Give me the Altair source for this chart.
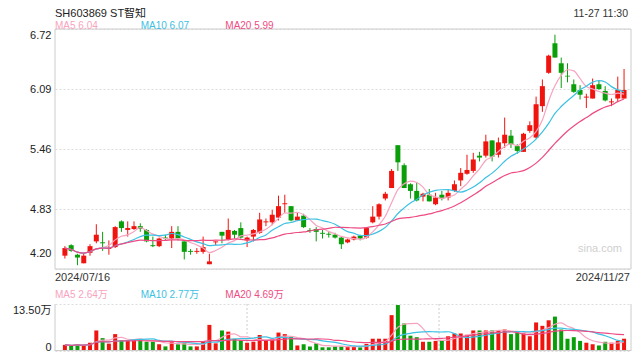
import altair as alt
import pandas as pd

# ---------------- data ----------------
title_text = "SH603869 ST智知"
time_text = "11-27 11:30"
date_labels = ["2024/07/16", "2024/11/27"]
price_ma_labels = ["MA5 6.04", "MA10 6.07", "MA20 5.99"]
vol_ma_labels = ["MA5 2.64万", "MA10 2.77万", "MA20 4.69万"]
price_ticks = [4.20, 4.83, 5.46, 6.09, 6.72]
vol_ticks = [0, 13.5]
watermark = "sina.com"

open_ = [4.34, 4.45, 4.35, 4.26, 4.37, 4.49, 4.48, 4.41, 4.43, 4.70,
         4.61, 4.62, 4.65, 4.61, 4.45, 4.44, 4.53, 4.52, 4.59, 4.49,
         4.39, 4.38, 4.38, 4.25, 4.48, 4.59, 4.51, 4.60, 4.63, 4.50,
         4.54, 4.58, 4.69, 4.69, 4.74, 4.88, 4.86, 4.71, 4.76, 4.61,
         4.62, 4.58, 4.57, 4.56, 4.53, 4.48, 4.51, 4.55, 4.53, 4.69,
         4.75, 4.94, 5.05, 5.50, 5.29, 5.09, 5.02, 4.96, 4.98, 4.88,
         4.98, 4.95, 5.02, 5.13, 5.20, 5.23, 5.39, 5.39, 5.55, 5.40,
         5.52, 5.60, 5.49, 5.43, 5.65, 5.58, 5.91, 6.26, 6.57, 6.36,
         6.23, 6.14, 6.08, 6.00, 5.99, 6.14, 6.07, 5.95, 5.99, 5.99]
high = [4.44, 4.46, 4.36, 4.37, 4.46, 4.67, 4.59, 4.50, 4.65, 4.71,
        4.70, 4.70, 4.68, 4.62, 4.54, 4.53, 4.56, 4.65, 4.65, 4.49,
        4.41, 4.42, 4.54, 4.36, 4.49, 4.59, 4.73, 4.61, 4.69, 4.54,
        4.62, 4.79, 4.73, 4.82, 4.97, 4.98, 4.86, 4.79, 4.78, 4.63,
        4.64, 4.61, 4.60, 4.58, 4.54, 4.52, 4.55, 4.56, 4.64, 4.86,
        4.89, 5.01, 5.25, 5.50, 5.31, 5.10, 5.11, 5.00, 5.04, 5.00,
        5.02, 5.03, 5.13, 5.26, 5.40, 5.42, 5.43, 5.61, 5.55, 5.58,
        5.79, 5.66, 5.51, 5.63, 5.75, 6.01, 6.19, 6.45, 6.66, 6.42,
        6.36, 6.19, 6.13, 6.04, 6.20, 6.18, 6.12, 5.99, 6.22, 6.30]
low = [4.31, 4.38, 4.24, 4.26, 4.34, 4.47, 4.39, 4.35, 4.42, 4.59,
       4.54, 4.61, 4.59, 4.48, 4.43, 4.43, 4.50, 4.42, 4.50, 4.30,
       4.35, 4.36, 4.36, 4.25, 4.45, 4.47, 4.50, 4.52, 4.52, 4.43,
       4.49, 4.57, 4.65, 4.66, 4.71, 4.79, 4.70, 4.71, 4.63, 4.58,
       4.49, 4.52, 4.53, 4.52, 4.41, 4.47, 4.50, 4.50, 4.52, 4.68,
       4.72, 4.92, 5.05, 5.23, 5.05, 4.94, 4.91, 4.91, 4.91, 4.87,
       4.92, 4.92, 5.01, 5.07, 5.19, 5.21, 5.33, 5.37, 5.33, 5.37,
       5.47, 5.47, 5.41, 5.43, 5.63, 5.57, 5.85, 6.25, 6.42, 6.10,
       6.16, 6.05, 5.98, 5.89, 5.99, 6.08, 5.96, 5.91, 5.96, 5.99]
close = [4.42, 4.39, 4.32, 4.34, 4.44, 4.56, 4.47, 4.42, 4.64, 4.63,
         4.63, 4.65, 4.62, 4.49, 4.44, 4.52, 4.52, 4.59, 4.52, 4.38,
         4.38, 4.39, 4.43, 4.28, 4.49, 4.55, 4.61, 4.56, 4.53, 4.53,
         4.61, 4.72, 4.70, 4.77, 4.86, 4.89, 4.71, 4.75, 4.64, 4.60,
         4.59, 4.57, 4.56, 4.53, 4.46, 4.51, 4.54, 4.52, 4.63, 4.75,
         4.88, 4.99, 5.23, 5.32, 5.05, 5.02, 4.92, 4.99, 4.91, 4.95,
         4.94, 5.00, 5.09, 5.21, 5.24, 5.35, 5.37, 5.54, 5.38, 5.53,
         5.61, 5.51, 5.44, 5.62, 5.71, 5.93, 6.12, 6.44, 6.42, 6.26,
         6.22, 6.06, 6.03, 6.01, 6.13, 6.09, 5.97, 5.96, 6.08, 6.08]
volume = [1.76, 1.50, 1.94, 1.59, 2.38, 5.90, 3.70, 2.12, 4.85, 3.09,
          3.09, 3.26, 3.26, 2.65, 2.65, 1.94, 1.32, 2.65, 1.94, 2.38,
          1.32, 1.32, 2.65, 7.50, 2.20, 5.90, 5.56, 3.53, 3.09, 2.38,
          2.65, 4.59, 3.09, 3.53, 5.29, 4.85, 4.14, 1.59, 1.94, 1.32,
          2.20, 1.06, 1.06, 1.32, 1.32, 1.32, 1.32, 1.06, 2.03, 3.53,
          3.53, 3.53, 10.30, 13.20, 7.90, 4.40, 3.97, 2.65, 2.65, 2.90,
          3.09, 4.23, 5.03, 5.03, 4.67, 5.90, 5.90, 5.90, 5.90, 5.90,
          6.17, 4.85, 5.29, 5.03, 4.23, 8.20, 7.23, 8.82, 9.88, 6.17,
          3.53, 3.97, 2.90, 2.38, 1.94, 1.59, 2.65, 2.38, 2.90, 3.53]

# ---------------- style ----------------
FONT = "Liberation Sans, Arial, Noto Sans CJK SC, sans-serif"
RED = "#f0140f"
GREEN = "#0a9f0a"
C5, C10, C20 = "#f7a3c0", "#3bc1e3", "#ee4b84"
BORDER = "#cccccc"
W, H = 576, 322
PH = 240           # price panel bottom (px in view)
VT, VB = 275, 322  # volume panel top / bottom

n = len(close)
df = pd.DataFrame({"i": list(range(n)), "open": open_, "high": high,
                   "low": low, "close": close, "vol": volume})

xs = alt.Scale(domain=[-0.78, n - 1 + 0.31], nice=False, zero=False)
X = alt.X("i:Q", scale=xs, axis=None)
ps = alt.Scale(domain=[price_ticks[0], price_ticks[-1]], range=[PH, 0], nice=False, zero=False)
vs = alt.Scale(domain=[vol_ticks[0], vol_ticks[-1]], range=[VB, VT], nice=False, zero=False)

updown = alt.condition("datum.close >= datum.open", alt.value(RED), alt.value(GREEN))

price_axis = alt.Axis(
    values=price_ticks, format=".2f", title=None, domain=False, ticks=False,
    labelPadding=4, labelFont=FONT, labelFontSize=11, labelColor="#222",
    grid=True, gridColor="#dddddd", gridDash=[2, 2], orient="left",
    labelBaseline={"condition": {"test": "datum.value > 6.7", "value": "top"}, "value": "middle"},
    labelOffset={"condition": {"test": "datum.value < 4.21", "value": -16}, "value": 0},
)
vol_axis = alt.Axis(
    values=vol_ticks, title=None, domain=False, ticks=False, orient="left",
    labelPadding=4, labelFont=FONT, labelFontSize=11, labelColor="#222",
    labelExpr="datum.value == 0 ? '0' : format(datum.value, '.2f') + '万'",
    grid=True, gridColor="#dddddd", gridDash=[2, 2],
    labelBaseline={"condition": {"test": "datum.value > 13", "value": "top"}, "value": "bottom"},
    labelOffset={"condition": {"test": "datum.value < 1", "value": 1}, "value": 0},
)

base = alt.Chart(df)

wicks = base.mark_rule(strokeWidth=1).encode(
    x=X, y=alt.Y("low:Q", scale=ps, axis=price_axis), y2="high:Q", color=updown)
bodies = base.mark_bar(size=5).encode(
    x=X, y=alt.Y("open:Q", scale=ps), y2="close:Q", color=updown)

srt = [alt.SortField("i")]
pma = (base.transform_window(ma5="mean(close)", frame=[-4, 0], sort=srt)
           .transform_window(ma10="mean(close)", frame=[-9, 0], sort=srt)
           .transform_window(ma20="mean(close)", frame=[-19, 0], sort=srt))
pma_lines = [pma.mark_line(color=c, strokeWidth=1.2, interpolate="monotone").encode(
                 x=X, y=alt.Y(f"{f}:Q", scale=ps))
             for f, c in [("ma5", C5), ("ma10", C10), ("ma20", C20)]]

pborder = alt.Chart(pd.DataFrame({"top": [price_ticks[-1]], "bot": [price_ticks[0]]})).mark_rect(
    fillOpacity=0, stroke=BORDER, strokeWidth=1).encode(
    x=alt.value(0), x2=alt.value(W), y=alt.Y("top:Q", scale=ps), y2="bot:Q")

price_layer = alt.layer(wicks, bodies, *pma_lines, pborder)

vbars = base.mark_bar(size=4).encode(
    x=X, y=alt.Y("vol:Q", scale=vs, axis=vol_axis), y2=alt.Y2(datum=0), color=updown)
vma = (base.transform_window(v5="mean(vol)", frame=[-4, 0], sort=srt)
           .transform_window(v10="mean(vol)", frame=[-9, 0], sort=srt)
           .transform_window(v20="mean(vol)", frame=[-19, 0], sort=srt))
vma_lines = [vma.mark_line(color=c, strokeWidth=1.2, interpolate="monotone").encode(
                 x=X, y=alt.Y(f"{f}:Q", scale=vs))
             for f, c in [("v5", C5), ("v10", C10), ("v20", C20)]]

one = pd.DataFrame({"a": [0]})
vgrid = [alt.Chart(one).mark_rule(color=BORDER, strokeDash=[2, 2]).encode(
             x=alt.value(W * k / 3), y=alt.value(VT), y2=alt.value(VB)) for k in (1, 2)]
vborders = [
    alt.Chart(one).mark_rule(color=BORDER).encode(x=alt.value(0), y=alt.value(VT), y2=alt.value(VB)),
    alt.Chart(one).mark_rule(color=BORDER).encode(x=alt.value(W), y=alt.value(VT), y2=alt.value(VB)),
    alt.Chart(one).mark_rule(color=BORDER).encode(x=alt.value(0), x2=alt.value(W), y=alt.value(VB - 0.5)),
]
vol_layer = alt.layer(*vgrid, vbars, *vma_lines, *vborders)


def label(txt, x, y, color, size, align="left", baseline="middle"):
    return alt.Chart(pd.DataFrame({"t": [txt]})).mark_text(
        align=align, baseline=baseline, font=FONT, fontSize=size, color=color).encode(
        text="t:N", x=alt.value(x), y=alt.value(y))


texts = [
    label(title_text, 0, -21, "#222", 11, baseline="top"),
    label(time_text, W - 3, -20, "#333", 10.5, "right", baseline="top"),
    label(date_labels[0], 0, 249, "#333", 11),
    label(date_labels[1], W - 1, 249, "#333", 11, "right"),
    label(watermark, 567, 220, "#cfcfcf", 11, "right"),
]
legend_x = [0, 85.7, 170.3]
for lx, t, c in zip(legend_x, price_ma_labels, [C5, C10, C20]):
    texts.append(label(t, lx, -3.5, c, 10))
for lx, t, c in zip(legend_x, vol_ma_labels, [C5, C10, C20]):
    texts.append(label(t, lx, 266, c, 10))

chart = alt.layer(price_layer, vol_layer, *texts).resolve_scale(y="independent").properties(
    width=W, height=H,
    autosize=alt.AutoSizeParams(type="none"),
    padding={"left": 47, "top": 21, "right": 1, "bottom": 1},
).configure_view(stroke=None)

chart.save("out.html", embed_options={"renderer": "svg", "actions": False})
